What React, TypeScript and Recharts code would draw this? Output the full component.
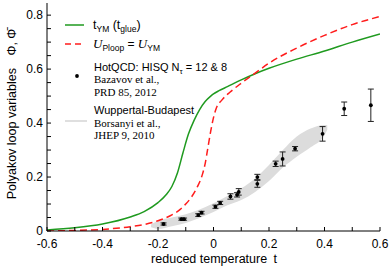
import React from 'react';
import { ComposedChart, Line, Area, Scatter, ErrorBar, XAxis, YAxis } from 'recharts';

// t_YM (t_glue) curve
const glueT = [-0.6, -0.5, -0.4, -0.3, -0.25, -0.2, -0.17, -0.15, -0.13, -0.11, -0.09, -0.07, -0.05, -0.03, -0.01, 0.0, 0.02, 0.05, 0.1, 0.15, 0.2, 0.3, 0.4, 0.5, 0.6];
const glueVal = [0.004, 0.012, 0.026, 0.052, 0.072, 0.105, 0.135, 0.165, 0.215, 0.29, 0.36, 0.41, 0.45, 0.48, 0.5, 0.508, 0.52, 0.535, 0.56, 0.583, 0.603, 0.637, 0.667, 0.7, 0.73];

// U_Ploop = U_YM curve
const ploopT = [-0.6, -0.5, -0.4, -0.3, -0.25, -0.2, -0.15, -0.12, -0.1, -0.08, -0.06, -0.04, -0.03, -0.02, -0.01, 0.0, 0.01, 0.03, 0.06, 0.1, 0.15, 0.2, 0.3, 0.4, 0.5, 0.6];
const ploopVal = [0.0, 0.002, 0.006, 0.016, 0.024, 0.038, 0.06, 0.08, 0.1, 0.125, 0.16, 0.21, 0.25, 0.31, 0.37, 0.42, 0.455, 0.485, 0.515, 0.548, 0.585, 0.622, 0.678, 0.725, 0.765, 0.795];

// HotQCD HISQ lattice points
const hisqT = [-0.18, -0.116, -0.106, -0.055, -0.043, 0.007, 0.024, 0.061, 0.085, 0.091, 0.158, 0.158, 0.224, 0.249, 0.294, 0.393, 0.471, 0.567];
const hisqVal = [0.026, 0.044, 0.044, 0.059, 0.068, 0.09, 0.104, 0.128, 0.134, 0.145, 0.2, 0.175, 0.249, 0.267, 0.305, 0.36, 0.453, 0.466];
const hisqErr = [0.004, 0.004, 0.004, 0.005, 0.005, 0.006, 0.006, 0.01, 0.008, 0.012, 0.01, 0.013, 0.01, 0.026, 0.008, 0.027, 0.025, 0.06];

// Wuppertal-Budapest band
const bandT = [-0.225, -0.2, -0.15, -0.1, -0.05, 0.0, 0.05, 0.1, 0.15, 0.2, 0.25, 0.3, 0.35, 0.4, 0.41];
const bandLo = [0.014, 0.008, 0.018, 0.03, 0.048, 0.07, 0.095, 0.115, 0.145, 0.185, 0.235, 0.275, 0.31, 0.355, 0.375];
const bandHi = [0.024, 0.038, 0.05, 0.062, 0.08, 0.103, 0.13, 0.158, 0.195, 0.245, 0.3, 0.35, 0.38, 0.393, 0.392];

const xTicks = [-0.6, -0.5, -0.4, -0.3, -0.2, -0.1, 0, 0.1, 0.2, 0.3, 0.4, 0.5, 0.6];
const yTicks = [0, 0.05, 0.1, 0.15, 0.2, 0.25, 0.3, 0.35, 0.4, 0.45, 0.5, 0.55, 0.6, 0.65, 0.7, 0.75, 0.8];
const xLabels = [-0.6, -0.4, -0.2, 0, 0.2, 0.4, 0.6];
const yLabels = [0, 0.2, 0.4, 0.6, 0.8];

const GREEN = '#1f9a1f';
const RED = '#ff1c1c';
const SANS = '"Liberation Sans", Arial, sans-serif';
const SERIF = '"Liberation Serif", "Times New Roman", serif';

const glue = glueT.map((t, i) => ({ t, v: glueVal[i] }));
const ploop = ploopT.map((t, i) => ({ t, v: ploopVal[i] }));
const hisq = hisqT.map((t, i) => ({ t, v: hisqVal[i], err: hisqErr[i] }));
const band = bandT.map((t, i) => ({ t, range: [bandLo[i], bandHi[i]] }));

const near = (list: number[], v: number) => list.some((x) => Math.abs(x - v) < 1e-6);
const fmtX = (v: number) => (near(xLabels, v) ? (Math.abs(v) < 1e-6 ? '0' : v.toFixed(1)) : '');
const fmtY = (v: number) => (near(yLabels, v) ? (v === 0 ? '0' : v.toFixed(1)) : '');

const Dot = (props: any) => <circle cx={props.cx} cy={props.cy} r={1.9} fill="#000" />;

const tickStyle = { fill: '#000', fontSize: 12, fontFamily: SANS };

const Legend = () => (
  <svg width={390} height={268} style={{ position: 'absolute', left: 0, top: 0, pointerEvents: 'none' }}>
    <line x1={65} x2={84} y1={25} y2={25} stroke={GREEN} strokeWidth={1.5} />
    <text x={93} y={29} fontSize={12.5} fontFamily={SANS}>
      t<tspan fontSize={8.5} dy={3}>YM</tspan>
      <tspan dy={-3}> (t</tspan>
      <tspan fontSize={8.5} dy={3}>glue</tspan>
      <tspan dy={-3}>)</tspan>
    </text>
    <line x1={65} x2={84} y1={44} y2={44} stroke={RED} strokeWidth={1.5} strokeDasharray="6 4" />
    <text x={93} y={48} fontSize={12} fontFamily={SANS}>
      <tspan fontFamily={SERIF} fontStyle="italic" fontSize={13}>U</tspan>
      <tspan fontSize={8.5} dy={3}>Ploop</tspan>
      <tspan dy={-3}> = </tspan>
      <tspan fontFamily={SERIF} fontStyle="italic" fontSize={13}>U</tspan>
      <tspan fontSize={8.5} dy={3}>YM</tspan>
    </text>
    <circle cx={77} cy={76} r={1.9} fill="#000" />
    <text x={94} y={71} fontSize={11} fontFamily={SANS}>
      HotQCD: HISQ N<tspan fontSize={8} dy={3}>τ</tspan>
      <tspan dy={-3}> = 12 &amp; 8</tspan>
    </text>
    <text x={94} y={83} fontSize={11} fontFamily={SERIF}>Bazavov et al.,</text>
    <text x={94} y={96} fontSize={11} fontFamily={SERIF}>PRD 85, 2012</text>
    <line x1={65} x2={87} y1={121} y2={121} stroke="#d4d4d4" strokeWidth={1.5} />
    <text x={94} y={114} fontSize={11} fontFamily={SANS}>Wuppertal-Budapest</text>
    <text x={94} y={127} fontSize={11} fontFamily={SERIF}>Borsanyi et al.,</text>
    <text x={94} y={139} fontSize={11} fontFamily={SERIF}>JHEP 9, 2010</text>
    <text
      transform="translate(16,114) rotate(-90)"
      textAnchor="middle"
      fontSize={12.5}
      fontFamily={SANS}
    >
      Polyakov loop variables{'\u2003'}Φ, Φ̄
    </text>
    <text x={214} y={263} textAnchor="middle" fontSize={12.5} fontFamily={SANS}>
      reduced temperature{'\u2002'}t
    </text>
  </svg>
);

export default function App() {
  return (
    <div style={{ position: 'fixed', left: 0, top: 0, width: 390, height: 268, background: '#fff' }}>
      <ComposedChart width={390} height={268} margin={{ top: 3, right: 10, bottom: 0, left: 0 }}>
        <XAxis
          dataKey="t"
          type="number"
          domain={[-0.6, 0.6]}
          ticks={xTicks}
          interval={0}
          tickFormatter={fmtX}
          tickSize={-4}
          tickMargin={12}
          tick={tickStyle}
          stroke="#000"
          height={37}
          allowDataOverflow
        />
        <XAxis
          xAxisId="top"
          orientation="top"
          type="number"
          domain={[-0.6, 0.6]}
          ticks={xTicks}
          interval={0}
          tick={false}
          tickSize={-4}
          stroke="#000"
          height={0}
          allowDataOverflow
        />
        <YAxis
          type="number"
          domain={[0, 0.845]}
          ticks={yTicks}
          interval={0}
          tickFormatter={fmtY}
          tickSize={-4}
          tickMargin={8}
          tick={tickStyle}
          stroke="#000"
          width={47}
          allowDataOverflow
        />
        <YAxis
          yAxisId="right"
          orientation="right"
          type="number"
          domain={[0, 0.845]}
          ticks={yTicks}
          interval={0}
          tick={false}
          tickSize={-4}
          stroke="#000"
          width={0}
          allowDataOverflow
        />
        <Area
          data={band}
          dataKey="range"
          type="monotone"
          fill="#dcdcdc"
          fillOpacity={1}
          stroke="none"
          isAnimationActive={false}
        />
        <Line data={glue} dataKey="v" type="monotone" stroke={GREEN} strokeWidth={1.5} dot={false} isAnimationActive={false} />
        <Line
          data={ploop}
          dataKey="v"
          type="monotone"
          stroke={RED}
          strokeWidth={1.5}
          strokeDasharray="7 4"
          dot={false}
          isAnimationActive={false}
        />
        <Scatter data={hisq} dataKey="v" shape={Dot} isAnimationActive={false}>
          <ErrorBar dataKey="err" direction="y" width={3} stroke="#222" strokeWidth={1} />
        </Scatter>
      </ComposedChart>
      <Legend />
    </div>
  );
}
